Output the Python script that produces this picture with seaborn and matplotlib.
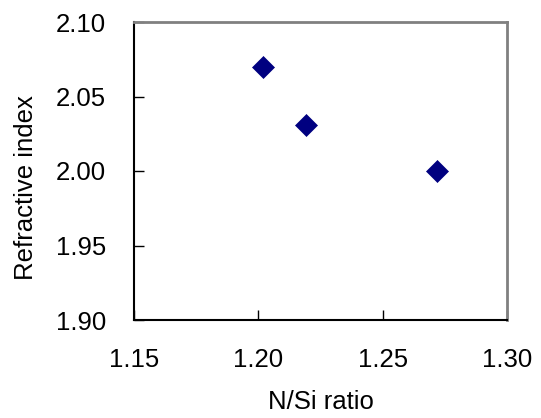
import matplotlib
matplotlib.use("Agg")
import matplotlib.pyplot as plt
import seaborn as sns
import pandas as pd

ratio = [1.202, 1.219, 1.272]
refr_index = [2.070, 2.031, 2.000]
x_ticks = [1.15, 1.20, 1.25, 1.30]
y_ticks = [1.90, 1.95, 2.00, 2.05, 2.10]

sns.set_style("white")
plt.rcParams['font.family'] = ['Liberation Sans', 'DejaVu Sans']
plt.rcParams['text.color'] = 'black'
plt.rcParams['axes.labelcolor'] = 'black'
plt.rcParams['xtick.color'] = 'black'
plt.rcParams['ytick.color'] = 'black'

df = pd.DataFrame({"N/Si ratio": ratio, "Refractive index": refr_index})

fig = plt.figure(figsize=(5.41, 4.18), dpi=100)
ax = fig.add_axes([134/541, 1-320/418, (507-134)/541, (320-22)/418])
sns.scatterplot(data=df, x="N/Si ratio", y="Refractive index", ax=ax,
                marker="D", s=125, color="#000080", edgecolor="#000080", linewidth=0.5)

ax.set_xlim(1.15, 1.30)
ax.set_ylim(1.90, 2.10)
ax.set_xticks(x_ticks)
ax.set_xticklabels([f"{v:.2f}" for v in x_ticks])
ax.set_yticks(y_ticks)
ax.set_yticklabels([f"{v:.2f}" for v in y_ticks])
ax.tick_params(axis='both', direction='in', length=7, width=1, color='black',
               labelcolor='black', labelsize=18.5, pad=20, bottom=True, left=True)
ax.set_xlabel("N/Si ratio", fontsize=18.5, labelpad=13, color='black')
ax.set_ylabel("Refractive index", fontsize=18.5, color='black')
ax.yaxis.set_label_coords(-0.257, 0.443)

for side in ['left', 'bottom']:
    ax.spines[side].set_color('black')
    ax.spines[side].set_linewidth(1.5)
for side in ['top', 'right']:
    ax.spines[side].set_color('#808080')
    ax.spines[side].set_linewidth(2)
ax.grid(False)

fig.savefig("out.png", dpi=100)
